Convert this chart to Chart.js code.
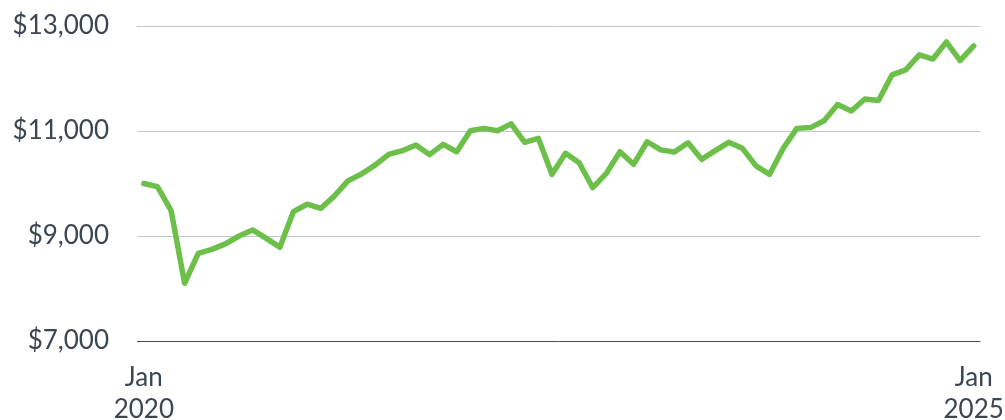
<!DOCTYPE html>
<html>
<head>
<meta charset="utf-8">
<script src="https://cdn.jsdelivr.net/npm/chart.js@4/dist/chart.umd.min.js"></script>
<style>
  html, body { margin: 0; padding: 0; background: #ffffff; }
  #wrap { width: 1005px; height: 420px; position: relative; }
</style>
</head>
<body>
<div id="wrap"><canvas id="c"></canvas></div>
<script>
const months = [
  "2019-12",
  "2020-01","2020-02","2020-03","2020-04","2020-05","2020-06","2020-07","2020-08","2020-09","2020-10","2020-11","2020-12",
  "2021-01","2021-02","2021-03","2021-04","2021-05","2021-06","2021-07","2021-08","2021-09","2021-10","2021-11","2021-12",
  "2022-01","2022-02","2022-03","2022-04","2022-05","2022-06","2022-07","2022-08","2022-09","2022-10","2022-11","2022-12",
  "2023-01","2023-02","2023-03","2023-04","2023-05","2023-06","2023-07","2023-08","2023-09","2023-10","2023-11","2023-12",
  "2024-01","2024-02","2024-03","2024-04","2024-05","2024-06","2024-07","2024-08","2024-09","2024-10","2024-11","2024-12",
  "2025-01"
];
const growthValues = [
  10000, 9940, 9490, 8100, 8670, 8745, 8850, 9000, 9115, 8955, 8785,
  9465, 9605, 9525, 9760, 10050, 10180, 10350, 10555, 10625, 10735,
  10550, 10745, 10605, 11005, 11050, 11005, 11135, 10785, 10860, 10175,
  10575, 10395, 9920, 10195, 10605, 10365, 10795, 10640, 10600, 10775,
  10460, 10625, 10785, 10670, 10335, 10175, 10670, 11050, 11065, 11195,
  11505, 11380, 11610, 11580, 12070, 12165, 12450, 12370, 12695, 12340,
  12620
];
const xTickLabels = [["Jan", "2020"], ["Jan", "2025"]];
const yTicks = [7000, 9000, 11000, 13000];

const textColor = "#3b4650";
const fontFamily = "Lato, 'Open Sans', sans-serif";

new Chart(document.getElementById("c"), {
  type: "line",
  data: {
    labels: months,
    datasets: [{
      data: growthValues,
      borderColor: "#6cc04a",
      borderWidth: 5.5,
      borderJoinStyle: "round",
      borderCapStyle: "round",
      pointRadius: 0,
      tension: 0,
      fill: false
    }]
  },
  options: {
    responsive: true,
    maintainAspectRatio: false,
    animation: false,
    layout: { padding: { top: 26, right: 24.5, left: 0, bottom: 0 } },
    plugins: { legend: { display: false }, tooltip: { enabled: false } },
    scales: {
      x: {
        type: "category",
        offset: true,
        grid: { display: false, drawTicks: false },
        border: { display: false },
        afterFit: (s) => { s.height = 79; s.paddingLeft = 0; s.paddingRight = 0; },
        ticks: {
          autoSkip: false,
          maxRotation: 0,
          minRotation: 0,
          padding: 21,
          color: textColor,
          font: { family: fontFamily, size: 26, lineHeight: 1.22 },
          callback: function (val, idx) {
            if (idx === 0) return xTickLabels[0];
            if (idx === months.length - 1) return xTickLabels[1];
            return null;
          }
        }
      },
      y: {
        min: yTicks[0],
        max: yTicks[yTicks.length - 1],
        afterFit: (s) => { s.width = 137; s.paddingTop = 0; s.paddingBottom = 0; },
        afterBuildTicks: (s) => { s.ticks = yTicks.map(v => ({ value: v })); },
        grid: {
          drawTicks: false,
          lineWidth: 1,
          color: (ctx) => ctx.tick && ctx.tick.value === yTicks[0] ? "#4a4f55" : "#c5c7cb"
        },
        border: { display: false },
        ticks: {
          padding: 28,
          color: textColor,
          font: { family: fontFamily, size: 26 },
          callback: (v) => "$" + v.toLocaleString("en-US")
        }
      }
    }
  }
});
</script>
</body>
</html>
